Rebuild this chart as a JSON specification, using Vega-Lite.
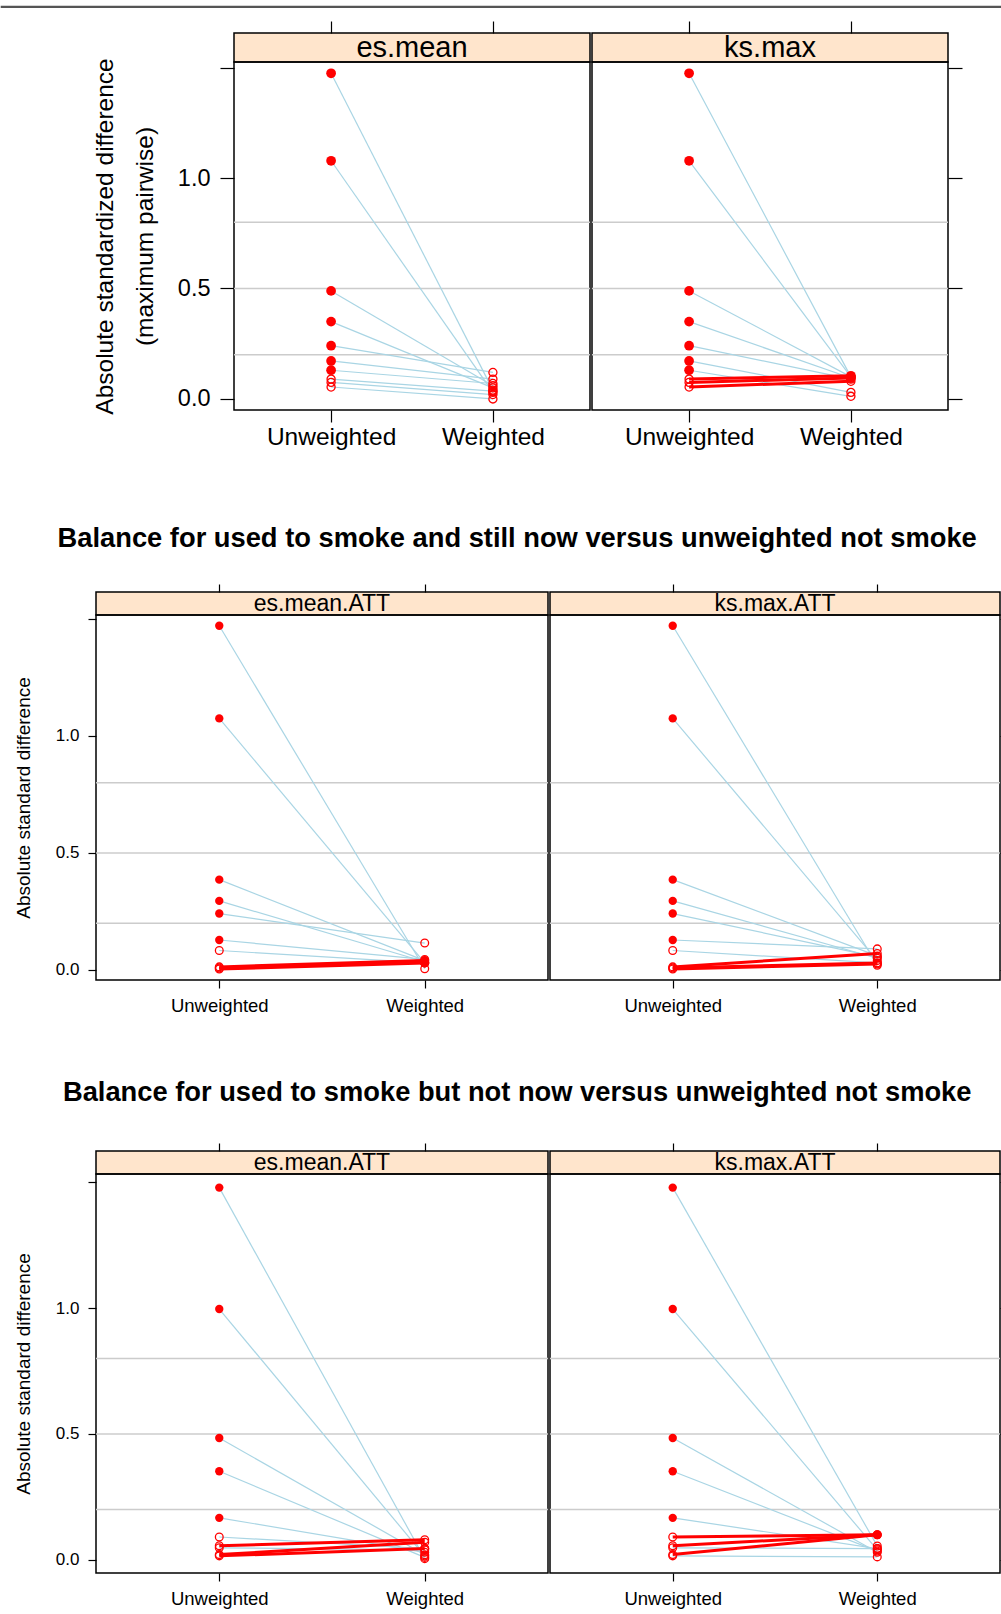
{
"$schema": "https://vega.github.io/schema/vega-lite/v6.json",
"background": "white",
"padding": {"left": 0, "top": 5, "right": 0, "bottom": 0},
"autosize": {"type": "pad"},
"spacing": 63,
"config": {
  "view": {"stroke": "black", "strokeWidth": 1.5},
  "axis": {"domain": false, "grid": false, "tickColor": "black", "tickWidth": 1.2, "labelColor": "black", "labelFont": "Liberation Sans", "titleFont": "Liberation Sans", "titleFontWeight": "normal", "titleColor": "black"},
  "text": {"font": "Liberation Sans", "color": "black"},
  "title": {"font": "Liberation Sans", "color": "black"}
},
"datasets": {
  "refs": [{"ref": 0.2}, {"ref": 0.5}, {"ref": 0.8}],
  "pts": [
    {"sec":1,"panel":"es.mean","var":1,"cond":"Unweighted","value":1.474,"sig":1,"up":0},
    {"sec":1,"panel":"es.mean","var":2,"cond":"Unweighted","value":1.078,"sig":1,"up":0},
    {"sec":1,"panel":"es.mean","var":3,"cond":"Unweighted","value":0.489,"sig":1,"up":0},
    {"sec":1,"panel":"es.mean","var":4,"cond":"Unweighted","value":0.350,"sig":1,"up":0},
    {"sec":1,"panel":"es.mean","var":5,"cond":"Unweighted","value":0.241,"sig":1,"up":0},
    {"sec":1,"panel":"es.mean","var":6,"cond":"Unweighted","value":0.172,"sig":1,"up":0},
    {"sec":1,"panel":"es.mean","var":7,"cond":"Unweighted","value":0.130,"sig":1,"up":0},
    {"sec":1,"panel":"es.mean","var":8,"cond":"Unweighted","value":0.090,"sig":0,"up":0},
    {"sec":1,"panel":"es.mean","var":9,"cond":"Unweighted","value":0.075,"sig":0,"up":0},
    {"sec":1,"panel":"es.mean","var":10,"cond":"Unweighted","value":0.054,"sig":0,"up":0},
    {"sec":1,"panel":"es.mean","var":1,"cond":"Weighted","value":0.040,"sig":0,"up":0},
    {"sec":1,"panel":"es.mean","var":2,"cond":"Weighted","value":0.030,"sig":0,"up":0},
    {"sec":1,"panel":"es.mean","var":3,"cond":"Weighted","value":0.060,"sig":0,"up":0},
    {"sec":1,"panel":"es.mean","var":4,"cond":"Weighted","value":0.050,"sig":0,"up":0},
    {"sec":1,"panel":"es.mean","var":5,"cond":"Weighted","value":0.120,"sig":0,"up":0},
    {"sec":1,"panel":"es.mean","var":6,"cond":"Weighted","value":0.090,"sig":0,"up":0},
    {"sec":1,"panel":"es.mean","var":7,"cond":"Weighted","value":0.070,"sig":0,"up":0},
    {"sec":1,"panel":"es.mean","var":8,"cond":"Weighted","value":0.035,"sig":0,"up":0},
    {"sec":1,"panel":"es.mean","var":9,"cond":"Weighted","value":0.020,"sig":0,"up":0},
    {"sec":1,"panel":"es.mean","var":10,"cond":"Weighted","value":0.000,"sig":0,"up":0},

    {"sec":1,"panel":"ks.max","var":1,"cond":"Unweighted","value":1.474,"sig":1,"up":0},
    {"sec":1,"panel":"ks.max","var":2,"cond":"Unweighted","value":1.078,"sig":1,"up":0},
    {"sec":1,"panel":"ks.max","var":3,"cond":"Unweighted","value":0.489,"sig":1,"up":0},
    {"sec":1,"panel":"ks.max","var":4,"cond":"Unweighted","value":0.350,"sig":1,"up":0},
    {"sec":1,"panel":"ks.max","var":5,"cond":"Unweighted","value":0.241,"sig":1,"up":0},
    {"sec":1,"panel":"ks.max","var":6,"cond":"Unweighted","value":0.172,"sig":1,"up":0},
    {"sec":1,"panel":"ks.max","var":7,"cond":"Unweighted","value":0.130,"sig":1,"up":0},
    {"sec":1,"panel":"ks.max","var":8,"cond":"Unweighted","value":0.090,"sig":0,"up":1},
    {"sec":1,"panel":"ks.max","var":9,"cond":"Unweighted","value":0.075,"sig":0,"up":1},
    {"sec":1,"panel":"ks.max","var":10,"cond":"Unweighted","value":0.054,"sig":0,"up":1},
    {"sec":1,"panel":"ks.max","var":1,"cond":"Weighted","value":0.100,"sig":0,"up":0},
    {"sec":1,"panel":"ks.max","var":2,"cond":"Weighted","value":0.100,"sig":0,"up":0},
    {"sec":1,"panel":"ks.max","var":3,"cond":"Weighted","value":0.100,"sig":0,"up":0},
    {"sec":1,"panel":"ks.max","var":4,"cond":"Weighted","value":0.095,"sig":0,"up":0},
    {"sec":1,"panel":"ks.max","var":5,"cond":"Weighted","value":0.090,"sig":0,"up":0},
    {"sec":1,"panel":"ks.max","var":6,"cond":"Weighted","value":0.030,"sig":0,"up":0},
    {"sec":1,"panel":"ks.max","var":7,"cond":"Weighted","value":0.012,"sig":0,"up":0},
    {"sec":1,"panel":"ks.max","var":8,"cond":"Weighted","value":0.105,"sig":1,"up":1},
    {"sec":1,"panel":"ks.max","var":9,"cond":"Weighted","value":0.095,"sig":0,"up":1},
    {"sec":1,"panel":"ks.max","var":10,"cond":"Weighted","value":0.080,"sig":0,"up":1},

    {"sec":2,"panel":"es.mean.ATT","var":1,"cond":"Unweighted","value":1.471,"sig":1,"up":0},
    {"sec":2,"panel":"es.mean.ATT","var":2,"cond":"Unweighted","value":1.075,"sig":1,"up":0},
    {"sec":2,"panel":"es.mean.ATT","var":3,"cond":"Unweighted","value":0.386,"sig":1,"up":0},
    {"sec":2,"panel":"es.mean.ATT","var":4,"cond":"Unweighted","value":0.295,"sig":1,"up":0},
    {"sec":2,"panel":"es.mean.ATT","var":5,"cond":"Unweighted","value":0.241,"sig":1,"up":0},
    {"sec":2,"panel":"es.mean.ATT","var":6,"cond":"Unweighted","value":0.128,"sig":1,"up":0},
    {"sec":2,"panel":"es.mean.ATT","var":7,"cond":"Unweighted","value":0.083,"sig":0,"up":0},
    {"sec":2,"panel":"es.mean.ATT","var":8,"cond":"Unweighted","value":0.013,"sig":0,"up":1},
    {"sec":2,"panel":"es.mean.ATT","var":9,"cond":"Unweighted","value":0.008,"sig":0,"up":1},
    {"sec":2,"panel":"es.mean.ATT","var":10,"cond":"Unweighted","value":0.004,"sig":0,"up":1},
    {"sec":2,"panel":"es.mean.ATT","var":1,"cond":"Weighted","value":0.005,"sig":0,"up":0},
    {"sec":2,"panel":"es.mean.ATT","var":2,"cond":"Weighted","value":0.030,"sig":0,"up":0},
    {"sec":2,"panel":"es.mean.ATT","var":3,"cond":"Weighted","value":0.040,"sig":0,"up":0},
    {"sec":2,"panel":"es.mean.ATT","var":4,"cond":"Weighted","value":0.035,"sig":0,"up":0},
    {"sec":2,"panel":"es.mean.ATT","var":5,"cond":"Weighted","value":0.115,"sig":0,"up":0},
    {"sec":2,"panel":"es.mean.ATT","var":6,"cond":"Weighted","value":0.045,"sig":0,"up":0},
    {"sec":2,"panel":"es.mean.ATT","var":7,"cond":"Weighted","value":0.030,"sig":0,"up":0},
    {"sec":2,"panel":"es.mean.ATT","var":8,"cond":"Weighted","value":0.040,"sig":1,"up":1},
    {"sec":2,"panel":"es.mean.ATT","var":9,"cond":"Weighted","value":0.035,"sig":1,"up":1},
    {"sec":2,"panel":"es.mean.ATT","var":10,"cond":"Weighted","value":0.030,"sig":0,"up":1},

    {"sec":2,"panel":"ks.max.ATT","var":1,"cond":"Unweighted","value":1.471,"sig":1,"up":0},
    {"sec":2,"panel":"ks.max.ATT","var":2,"cond":"Unweighted","value":1.075,"sig":1,"up":0},
    {"sec":2,"panel":"ks.max.ATT","var":3,"cond":"Unweighted","value":0.386,"sig":1,"up":0},
    {"sec":2,"panel":"ks.max.ATT","var":4,"cond":"Unweighted","value":0.295,"sig":1,"up":0},
    {"sec":2,"panel":"ks.max.ATT","var":5,"cond":"Unweighted","value":0.241,"sig":1,"up":0},
    {"sec":2,"panel":"ks.max.ATT","var":6,"cond":"Unweighted","value":0.128,"sig":1,"up":0},
    {"sec":2,"panel":"ks.max.ATT","var":7,"cond":"Unweighted","value":0.083,"sig":0,"up":0},
    {"sec":2,"panel":"ks.max.ATT","var":8,"cond":"Unweighted","value":0.013,"sig":0,"up":1},
    {"sec":2,"panel":"ks.max.ATT","var":9,"cond":"Unweighted","value":0.008,"sig":0,"up":1},
    {"sec":2,"panel":"ks.max.ATT","var":10,"cond":"Unweighted","value":0.004,"sig":0,"up":1},
    {"sec":2,"panel":"ks.max.ATT","var":1,"cond":"Weighted","value":0.020,"sig":0,"up":0},
    {"sec":2,"panel":"ks.max.ATT","var":2,"cond":"Weighted","value":0.040,"sig":0,"up":0},
    {"sec":2,"panel":"ks.max.ATT","var":3,"cond":"Weighted","value":0.060,"sig":0,"up":0},
    {"sec":2,"panel":"ks.max.ATT","var":4,"cond":"Weighted","value":0.050,"sig":0,"up":0},
    {"sec":2,"panel":"ks.max.ATT","var":5,"cond":"Weighted","value":0.055,"sig":0,"up":0},
    {"sec":2,"panel":"ks.max.ATT","var":6,"cond":"Weighted","value":0.090,"sig":0,"up":0},
    {"sec":2,"panel":"ks.max.ATT","var":7,"cond":"Weighted","value":0.030,"sig":0,"up":0},
    {"sec":2,"panel":"ks.max.ATT","var":8,"cond":"Weighted","value":0.070,"sig":0,"up":1},
    {"sec":2,"panel":"ks.max.ATT","var":9,"cond":"Weighted","value":0.030,"sig":0,"up":1},
    {"sec":2,"panel":"ks.max.ATT","var":10,"cond":"Weighted","value":0.025,"sig":0,"up":1},

    {"sec":3,"panel":"es.mean.ATT","var":1,"cond":"Unweighted","value":1.478,"sig":1,"up":0},
    {"sec":3,"panel":"es.mean.ATT","var":2,"cond":"Unweighted","value":0.996,"sig":1,"up":0},
    {"sec":3,"panel":"es.mean.ATT","var":3,"cond":"Unweighted","value":0.484,"sig":1,"up":0},
    {"sec":3,"panel":"es.mean.ATT","var":4,"cond":"Unweighted","value":0.352,"sig":1,"up":0},
    {"sec":3,"panel":"es.mean.ATT","var":5,"cond":"Unweighted","value":0.167,"sig":1,"up":0},
    {"sec":3,"panel":"es.mean.ATT","var":6,"cond":"Unweighted","value":0.091,"sig":0,"up":0},
    {"sec":3,"panel":"es.mean.ATT","var":7,"cond":"Unweighted","value":0.056,"sig":0,"up":1},
    {"sec":3,"panel":"es.mean.ATT","var":8,"cond":"Unweighted","value":0.048,"sig":0,"up":0},
    {"sec":3,"panel":"es.mean.ATT","var":9,"cond":"Unweighted","value":0.021,"sig":0,"up":1},
    {"sec":3,"panel":"es.mean.ATT","var":10,"cond":"Unweighted","value":0.016,"sig":0,"up":1},
    {"sec":3,"panel":"es.mean.ATT","var":1,"cond":"Weighted","value":0.005,"sig":0,"up":0},
    {"sec":3,"panel":"es.mean.ATT","var":2,"cond":"Weighted","value":0.015,"sig":0,"up":0},
    {"sec":3,"panel":"es.mean.ATT","var":3,"cond":"Weighted","value":0.020,"sig":0,"up":0},
    {"sec":3,"panel":"es.mean.ATT","var":4,"cond":"Weighted","value":0.010,"sig":0,"up":0},
    {"sec":3,"panel":"es.mean.ATT","var":5,"cond":"Weighted","value":0.030,"sig":0,"up":0},
    {"sec":3,"panel":"es.mean.ATT","var":6,"cond":"Weighted","value":0.045,"sig":0,"up":0},
    {"sec":3,"panel":"es.mean.ATT","var":7,"cond":"Weighted","value":0.080,"sig":0,"up":1},
    {"sec":3,"panel":"es.mean.ATT","var":8,"cond":"Weighted","value":0.040,"sig":0,"up":0},
    {"sec":3,"panel":"es.mean.ATT","var":9,"cond":"Weighted","value":0.070,"sig":0,"up":1},
    {"sec":3,"panel":"es.mean.ATT","var":10,"cond":"Weighted","value":0.045,"sig":0,"up":1},

    {"sec":3,"panel":"ks.max.ATT","var":1,"cond":"Unweighted","value":1.478,"sig":1,"up":0},
    {"sec":3,"panel":"ks.max.ATT","var":2,"cond":"Unweighted","value":0.996,"sig":1,"up":0},
    {"sec":3,"panel":"ks.max.ATT","var":3,"cond":"Unweighted","value":0.484,"sig":1,"up":0},
    {"sec":3,"panel":"ks.max.ATT","var":4,"cond":"Unweighted","value":0.352,"sig":1,"up":0},
    {"sec":3,"panel":"ks.max.ATT","var":5,"cond":"Unweighted","value":0.167,"sig":1,"up":0},
    {"sec":3,"panel":"ks.max.ATT","var":6,"cond":"Unweighted","value":0.091,"sig":0,"up":1},
    {"sec":3,"panel":"ks.max.ATT","var":7,"cond":"Unweighted","value":0.056,"sig":0,"up":1},
    {"sec":3,"panel":"ks.max.ATT","var":8,"cond":"Unweighted","value":0.048,"sig":0,"up":0},
    {"sec":3,"panel":"ks.max.ATT","var":9,"cond":"Unweighted","value":0.021,"sig":0,"up":1},
    {"sec":3,"panel":"ks.max.ATT","var":10,"cond":"Unweighted","value":0.016,"sig":0,"up":0},
    {"sec":3,"panel":"ks.max.ATT","var":1,"cond":"Weighted","value":0.055,"sig":0,"up":0},
    {"sec":3,"panel":"ks.max.ATT","var":2,"cond":"Weighted","value":0.040,"sig":0,"up":0},
    {"sec":3,"panel":"ks.max.ATT","var":3,"cond":"Weighted","value":0.030,"sig":0,"up":0},
    {"sec":3,"panel":"ks.max.ATT","var":4,"cond":"Weighted","value":0.035,"sig":0,"up":0},
    {"sec":3,"panel":"ks.max.ATT","var":5,"cond":"Weighted","value":0.045,"sig":0,"up":0},
    {"sec":3,"panel":"ks.max.ATT","var":6,"cond":"Weighted","value":0.100,"sig":1,"up":1},
    {"sec":3,"panel":"ks.max.ATT","var":7,"cond":"Weighted","value":0.100,"sig":0,"up":1},
    {"sec":3,"panel":"ks.max.ATT","var":8,"cond":"Weighted","value":0.045,"sig":0,"up":0},
    {"sec":3,"panel":"ks.max.ATT","var":9,"cond":"Weighted","value":0.100,"sig":0,"up":1},
    {"sec":3,"panel":"ks.max.ATT","var":10,"cond":"Weighted","value":0.012,"sig":0,"up":0}
  ]
},
"data": {"name": "pts"},
"vconcat": [
  {
    "spacing": 11,
    "vconcat": [
      {"width": 1001, "height": 1, "data": {"values": []}, "mark": "point", "view": {"stroke": "#555555", "strokeWidth": 1.2}},
      {
        "spacing": -5,
        "hconcat": [
          {"width": 95, "height": 429, "data": {"values": []}, "mark": "point", "view": {"stroke": null}},
          {
            "spacing": 0, "bounds": "flush",
            "vconcat": [
              {"width": 356, "height": 29, "view": {"fill": "#FFE5CC", "stroke": "black", "strokeWidth": 1.5},
               "transform": [{"filter": "datum.sec == 1 && datum.panel == 'es.mean'"}],
               "layer": [
                 {"mark": {"type": "point", "opacity": 0}, "encoding": {"x": {"field": "cond", "type": "nominal", "scale": {"domain": ["Unweighted", "Weighted"], "padding": 0.6}, "axis": {"orient": "top", "labels": false, "tickSize": 12, "title": null}}}},
                 {"transform": [{"aggregate": [{"op": "count", "as": "n"}], "groupby": ["panel"]}], "mark": {"type": "text", "fontSize": 29}, "encoding": {"text": {"field": "panel"}}}
               ]},
              {"width": 356, "height": 348,
               "transform": [{"filter": "datum.sec == 1 && datum.panel == 'es.mean'"}],
               "layer": [
                 {"data": {"name": "refs"}, "mark": {"type": "rule", "color": "#CCCCCC", "strokeWidth": 1.5},
                  "encoding": {"y": {"field": "ref", "type": "quantitative", "scale": {"domain": [-0.05, 1.525], "nice": false, "zero": false}, "axis": {"values": [0, 0.5, 1, 1.5], "labelExpr": "datum.value == 1.5 ? '' : format(datum.value, '.1f')", "tickSize": 14, "labelFontSize": 23.5, "labelPadding": 10, "title": ["Absolute standardized difference", "(maximum pairwise)"], "titleFontSize": 24.5, "titleLineHeight": 40, "titlePadding": 20}}}},
                 {"encoding": {
                    "x": {"field": "cond", "type": "nominal", "scale": {"domain": ["Unweighted", "Weighted"], "padding": 0.6}, "axis": {"orient": "bottom", "labelAngle": 0, "tickSize": 12, "labelFontSize": 24.5, "labelPadding": 3, "title": null}},
                    "y": {"field": "value", "type": "quantitative", "scale": {"domain": [-0.05, 1.525], "nice": false, "zero": false}, "axis": {"values": [0, 0.5, 1, 1.5], "labelExpr": "datum.value == 1.5 ? '' : format(datum.value, '.1f')", "tickSize": 14, "labelFontSize": 23.5, "labelPadding": 10, "title": ["Absolute standardized difference", "(maximum pairwise)"], "titleFontSize": 24.5, "titleLineHeight": 40, "titlePadding": 20}}},
                  "layer": [
                    {"transform": [{"filter": "datum.up == 0"}], "mark": {"type": "line", "color": "#A9D5E4", "strokeWidth": 1.2}, "encoding": {"detail": {"field": "var"}}},
                    {"transform": [{"filter": "datum.up == 1"}], "mark": {"type": "line", "color": "red", "strokeWidth": 3}, "encoding": {"detail": {"field": "var"}}},
                    {"transform": [{"filter": "datum.sig == 0"}], "mark": {"type": "point", "shape": "circle", "filled": false, "color": "red", "strokeWidth": 1.3, "size": 65, "opacity": 1}},
                    {"transform": [{"filter": "datum.sig == 1"}], "mark": {"type": "point", "shape": "circle", "filled": true, "color": "red", "size": 95, "opacity": 1}}
                  ]}
               ]}
            ]
          },
          {
            "spacing": 0, "bounds": "flush",
            "vconcat": [
              {"width": 356, "height": 29, "view": {"fill": "#FFE5CC", "stroke": "black", "strokeWidth": 1.5},
               "transform": [{"filter": "datum.sec == 1 && datum.panel == 'ks.max'"}],
               "layer": [
                 {"mark": {"type": "point", "opacity": 0}, "encoding": {"x": {"field": "cond", "type": "nominal", "scale": {"domain": ["Unweighted", "Weighted"], "padding": 0.6}, "axis": {"orient": "top", "labels": false, "tickSize": 12, "title": null}}}},
                 {"transform": [{"aggregate": [{"op": "count", "as": "n"}], "groupby": ["panel"]}], "mark": {"type": "text", "fontSize": 29}, "encoding": {"text": {"field": "panel"}}}
               ]},
              {"width": 356, "height": 348,
               "transform": [{"filter": "datum.sec == 1 && datum.panel == 'ks.max'"}],
               "layer": [
                 {"data": {"name": "refs"}, "mark": {"type": "rule", "color": "#CCCCCC", "strokeWidth": 1.5},
                  "encoding": {"y": {"field": "ref", "type": "quantitative", "scale": {"domain": [-0.05, 1.525], "nice": false, "zero": false}, "axis": {"orient": "right", "values": [0, 0.5, 1, 1.5], "labels": false, "tickSize": 14, "title": null}}}},
                 {"encoding": {
                    "x": {"field": "cond", "type": "nominal", "scale": {"domain": ["Unweighted", "Weighted"], "padding": 0.6}, "axis": {"orient": "bottom", "labelAngle": 0, "tickSize": 12, "labelFontSize": 24.5, "labelPadding": 3, "title": null}},
                    "y": {"field": "value", "type": "quantitative", "scale": {"domain": [-0.05, 1.525], "nice": false, "zero": false}, "axis": {"orient": "right", "values": [0, 0.5, 1, 1.5], "labels": false, "tickSize": 14, "title": null}}},
                  "layer": [
                    {"transform": [{"filter": "datum.up == 0"}], "mark": {"type": "line", "color": "#A9D5E4", "strokeWidth": 1.2}, "encoding": {"detail": {"field": "var"}}},
                    {"transform": [{"filter": "datum.up == 1"}], "mark": {"type": "line", "color": "red", "strokeWidth": 3}, "encoding": {"detail": {"field": "var"}}},
                    {"transform": [{"filter": "datum.sig == 0"}], "mark": {"type": "point", "shape": "circle", "filled": false, "color": "red", "strokeWidth": 1.3, "size": 65, "opacity": 1}},
                    {"transform": [{"filter": "datum.sig == 1"}], "mark": {"type": "point", "shape": "circle", "filled": true, "color": "red", "size": 95, "opacity": 1}}
                  ]}
               ]}
            ]
          }
        ]
      }
    ]
  },
  {
    "title": {"text": "Balance for used to smoke and still now versus unweighted not smoke", "fontSize": 27.3, "fontWeight": "bold", "anchor": "middle", "offset": 30, "dx": 12},
    "spacing": -5,
    "hconcat": [
      {"width": 17, "height": 1, "data": {"values": []}, "mark": "point", "view": {"stroke": null}},
      {
        "spacing": 0, "bounds": "flush",
        "vconcat": [
          {"width": 452, "height": 23, "view": {"fill": "#FFE5CC", "stroke": "black", "strokeWidth": 1.5},
           "transform": [{"filter": "datum.sec == 2 && datum.panel == 'es.mean.ATT'"}],
           "layer": [
             {"mark": {"type": "point", "opacity": 0}, "encoding": {"x": {"field": "cond", "type": "nominal", "scale": {"domain": ["Unweighted", "Weighted"], "padding": 0.6}, "axis": {"orient": "top", "labels": false, "tickSize": 8, "title": null}}}},
             {"transform": [{"aggregate": [{"op": "count", "as": "n"}], "groupby": ["panel"]}], "mark": {"type": "text", "fontSize": 23}, "encoding": {"text": {"field": "panel"}}}
           ]},
          {"width": 452, "height": 365,
           "transform": [{"filter": "datum.sec == 2 && datum.panel == 'es.mean.ATT'"}],
           "layer": [
             {"data": {"name": "refs"}, "mark": {"type": "rule", "color": "#CCCCCC", "strokeWidth": 1.5},
              "encoding": {"y": {"field": "ref", "type": "quantitative", "scale": {"domain": [-0.043, 1.517], "nice": false, "zero": false}, "axis": {"values": [0, 0.5, 1, 1.5], "labelExpr": "datum.value == 1.5 ? '' : format(datum.value, '.1f')", "tickSize": 8, "labelFontSize": 17, "labelPadding": 9, "title": "Absolute standard difference", "titleFontSize": 19, "titlePadding": 22}}}},
             {"encoding": {
                "x": {"field": "cond", "type": "nominal", "scale": {"domain": ["Unweighted", "Weighted"], "padding": 0.6}, "axis": {"orient": "bottom", "labelAngle": 0, "tickSize": 8, "labelFontSize": 18.5, "labelPadding": 8, "title": null}},
                "y": {"field": "value", "type": "quantitative", "scale": {"domain": [-0.043, 1.517], "nice": false, "zero": false}, "axis": {"values": [0, 0.5, 1, 1.5], "labelExpr": "datum.value == 1.5 ? '' : format(datum.value, '.1f')", "tickSize": 8, "labelFontSize": 17, "labelPadding": 9, "title": "Absolute standard difference", "titleFontSize": 19, "titlePadding": 22}}},
              "layer": [
                {"transform": [{"filter": "datum.up == 0"}], "mark": {"type": "line", "color": "#A9D5E4", "strokeWidth": 1.2}, "encoding": {"detail": {"field": "var"}}},
                {"transform": [{"filter": "datum.up == 1"}], "mark": {"type": "line", "color": "red", "strokeWidth": 3}, "encoding": {"detail": {"field": "var"}}},
                {"transform": [{"filter": "datum.sig == 0"}], "mark": {"type": "point", "shape": "circle", "filled": false, "color": "red", "strokeWidth": 1.3, "size": 60, "opacity": 1}},
                {"transform": [{"filter": "datum.sig == 1"}], "mark": {"type": "point", "shape": "circle", "filled": true, "color": "red", "size": 70, "opacity": 1}}
              ]}
           ]}
        ]
      },
      {
        "spacing": 0, "bounds": "flush",
        "vconcat": [
          {"width": 450, "height": 23, "view": {"fill": "#FFE5CC", "stroke": "black", "strokeWidth": 1.5},
           "transform": [{"filter": "datum.sec == 2 && datum.panel == 'ks.max.ATT'"}],
           "layer": [
             {"mark": {"type": "point", "opacity": 0}, "encoding": {"x": {"field": "cond", "type": "nominal", "scale": {"domain": ["Unweighted", "Weighted"], "padding": 0.6}, "axis": {"orient": "top", "labels": false, "tickSize": 8, "title": null}}}},
             {"transform": [{"aggregate": [{"op": "count", "as": "n"}], "groupby": ["panel"]}], "mark": {"type": "text", "fontSize": 23}, "encoding": {"text": {"field": "panel"}}}
           ]},
          {"width": 450, "height": 365,
           "transform": [{"filter": "datum.sec == 2 && datum.panel == 'ks.max.ATT'"}],
           "layer": [
             {"data": {"name": "refs"}, "mark": {"type": "rule", "color": "#CCCCCC", "strokeWidth": 1.5},
              "encoding": {"y": {"field": "ref", "type": "quantitative", "scale": {"domain": [-0.043, 1.517], "nice": false, "zero": false}, "axis": {"orient": "right", "values": [0, 0.5, 1, 1.5], "labels": false, "tickSize": 8, "title": null}}}},
             {"encoding": {
                "x": {"field": "cond", "type": "nominal", "scale": {"domain": ["Unweighted", "Weighted"], "padding": 0.6}, "axis": {"orient": "bottom", "labelAngle": 0, "tickSize": 8, "labelFontSize": 18.5, "labelPadding": 8, "title": null}},
                "y": {"field": "value", "type": "quantitative", "scale": {"domain": [-0.043, 1.517], "nice": false, "zero": false}, "axis": {"orient": "right", "values": [0, 0.5, 1, 1.5], "labels": false, "tickSize": 8, "title": null}}},
              "layer": [
                {"transform": [{"filter": "datum.up == 0"}], "mark": {"type": "line", "color": "#A9D5E4", "strokeWidth": 1.2}, "encoding": {"detail": {"field": "var"}}},
                {"transform": [{"filter": "datum.up == 1"}], "mark": {"type": "line", "color": "red", "strokeWidth": 3}, "encoding": {"detail": {"field": "var"}}},
                {"transform": [{"filter": "datum.sig == 0"}], "mark": {"type": "point", "shape": "circle", "filled": false, "color": "red", "strokeWidth": 1.3, "size": 60, "opacity": 1}},
                {"transform": [{"filter": "datum.sig == 1"}], "mark": {"type": "point", "shape": "circle", "filled": true, "color": "red", "size": 70, "opacity": 1}}
              ]}
           ]}
        ]
      }
    ]
  },
  {
    "title": {"text": "Balance for used to smoke but not now versus unweighted not smoke", "fontSize": 27.3, "fontWeight": "bold", "anchor": "middle", "offset": 35, "dx": 12},
    "spacing": -5,
    "hconcat": [
      {"width": 17, "height": 1, "data": {"values": []}, "mark": "point", "view": {"stroke": null}},
      {
        "spacing": 0, "bounds": "flush",
        "vconcat": [
          {"width": 452, "height": 23, "view": {"fill": "#FFE5CC", "stroke": "black", "strokeWidth": 1.5},
           "transform": [{"filter": "datum.sec == 3 && datum.panel == 'es.mean.ATT'"}],
           "layer": [
             {"mark": {"type": "point", "opacity": 0}, "encoding": {"x": {"field": "cond", "type": "nominal", "scale": {"domain": ["Unweighted", "Weighted"], "padding": 0.6}, "axis": {"orient": "top", "labels": false, "tickSize": 8, "title": null}}}},
             {"transform": [{"aggregate": [{"op": "count", "as": "n"}], "groupby": ["panel"]}], "mark": {"type": "text", "fontSize": 23}, "encoding": {"text": {"field": "panel"}}}
           ]},
          {"width": 452, "height": 399,
           "transform": [{"filter": "datum.sec == 3 && datum.panel == 'es.mean.ATT'"}],
           "layer": [
             {"data": {"name": "refs"}, "mark": {"type": "rule", "color": "#CCCCCC", "strokeWidth": 1.5},
              "encoding": {"y": {"field": "ref", "type": "quantitative", "scale": {"domain": [-0.052, 1.532], "nice": false, "zero": false}, "axis": {"values": [0, 0.5, 1, 1.5], "labelExpr": "datum.value == 1.5 ? '' : format(datum.value, '.1f')", "tickSize": 8, "labelFontSize": 17, "labelPadding": 9, "title": "Absolute standard difference", "titleFontSize": 19, "titlePadding": 22}}}},
             {"encoding": {
                "x": {"field": "cond", "type": "nominal", "scale": {"domain": ["Unweighted", "Weighted"], "padding": 0.6}, "axis": {"orient": "bottom", "labelAngle": 0, "tickSize": 8, "labelFontSize": 18.5, "labelPadding": 8, "title": null}},
                "y": {"field": "value", "type": "quantitative", "scale": {"domain": [-0.052, 1.532], "nice": false, "zero": false}, "axis": {"values": [0, 0.5, 1, 1.5], "labelExpr": "datum.value == 1.5 ? '' : format(datum.value, '.1f')", "tickSize": 8, "labelFontSize": 17, "labelPadding": 9, "title": "Absolute standard difference", "titleFontSize": 19, "titlePadding": 22}}},
              "layer": [
                {"transform": [{"filter": "datum.up == 0"}], "mark": {"type": "line", "color": "#A9D5E4", "strokeWidth": 1.2}, "encoding": {"detail": {"field": "var"}}},
                {"transform": [{"filter": "datum.up == 1"}], "mark": {"type": "line", "color": "red", "strokeWidth": 3}, "encoding": {"detail": {"field": "var"}}},
                {"transform": [{"filter": "datum.sig == 0"}], "mark": {"type": "point", "shape": "circle", "filled": false, "color": "red", "strokeWidth": 1.3, "size": 60, "opacity": 1}},
                {"transform": [{"filter": "datum.sig == 1"}], "mark": {"type": "point", "shape": "circle", "filled": true, "color": "red", "size": 70, "opacity": 1}}
              ]}
           ]}
        ]
      },
      {
        "spacing": 0, "bounds": "flush",
        "vconcat": [
          {"width": 450, "height": 23, "view": {"fill": "#FFE5CC", "stroke": "black", "strokeWidth": 1.5},
           "transform": [{"filter": "datum.sec == 3 && datum.panel == 'ks.max.ATT'"}],
           "layer": [
             {"mark": {"type": "point", "opacity": 0}, "encoding": {"x": {"field": "cond", "type": "nominal", "scale": {"domain": ["Unweighted", "Weighted"], "padding": 0.6}, "axis": {"orient": "top", "labels": false, "tickSize": 8, "title": null}}}},
             {"transform": [{"aggregate": [{"op": "count", "as": "n"}], "groupby": ["panel"]}], "mark": {"type": "text", "fontSize": 23}, "encoding": {"text": {"field": "panel"}}}
           ]},
          {"width": 450, "height": 399,
           "transform": [{"filter": "datum.sec == 3 && datum.panel == 'ks.max.ATT'"}],
           "layer": [
             {"data": {"name": "refs"}, "mark": {"type": "rule", "color": "#CCCCCC", "strokeWidth": 1.5},
              "encoding": {"y": {"field": "ref", "type": "quantitative", "scale": {"domain": [-0.052, 1.532], "nice": false, "zero": false}, "axis": {"orient": "right", "values": [0, 0.5, 1, 1.5], "labels": false, "tickSize": 8, "title": null}}}},
             {"encoding": {
                "x": {"field": "cond", "type": "nominal", "scale": {"domain": ["Unweighted", "Weighted"], "padding": 0.6}, "axis": {"orient": "bottom", "labelAngle": 0, "tickSize": 8, "labelFontSize": 18.5, "labelPadding": 8, "title": null}},
                "y": {"field": "value", "type": "quantitative", "scale": {"domain": [-0.052, 1.532], "nice": false, "zero": false}, "axis": {"orient": "right", "values": [0, 0.5, 1, 1.5], "labels": false, "tickSize": 8, "title": null}}},
              "layer": [
                {"transform": [{"filter": "datum.up == 0"}], "mark": {"type": "line", "color": "#A9D5E4", "strokeWidth": 1.2}, "encoding": {"detail": {"field": "var"}}},
                {"transform": [{"filter": "datum.up == 1"}], "mark": {"type": "line", "color": "red", "strokeWidth": 3}, "encoding": {"detail": {"field": "var"}}},
                {"transform": [{"filter": "datum.sig == 0"}], "mark": {"type": "point", "shape": "circle", "filled": false, "color": "red", "strokeWidth": 1.3, "size": 60, "opacity": 1}},
                {"transform": [{"filter": "datum.sig == 1"}], "mark": {"type": "point", "shape": "circle", "filled": true, "color": "red", "size": 70, "opacity": 1}}
              ]}
           ]}
        ]
      }
    ]
  }
]
}
